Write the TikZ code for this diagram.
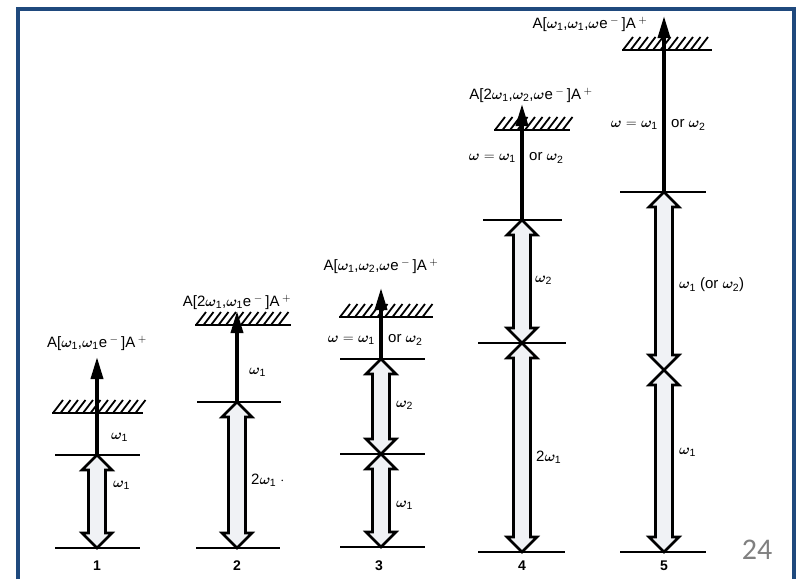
\documentclass[tikz,border=0pt]{standalone}
\usepackage{amsmath,amssymb,bm}
\usepackage{xcolor}
\usepackage{fontspec}
\setmainfont{Liberation Sans}
\newfontfamily\slidefont{Carlito}
\usepackage{tikz}
\usetikzlibrary{positioning,arrows.meta,calc}
\definecolor{frameblue}{RGB}{31,73,125}
\definecolor{pagegray}{RGB}{128,128,128}
\definecolor{photonfill}{RGB}{240,242,245}
\tikzset{
  level/.style={line width=1.3pt},
  hatch/.style={line width=1.8pt},
  ionarr/.style={-{Triangle[length=22pt,width=12pt]}, line width=3.6pt},
  photon/.style={draw, line width=2.6pt, fill=photonfill, line join=miter},
  lbl/.style={font=\fontsize{15}{17}\selectfont, inner sep=1pt},
  num/.style={font=\fontsize{14}{16}\selectfont\bfseries, inner sep=1pt},
}
\newcommand{\om}[1]{$\bm{\omega}_{\text{#1}}$}
\newcommand{\omw}{$\bm{\omega}$}
\newcommand{\ion}[1]{A[#1e\,$^-$\,]A\,$^+$}
% two-headed photon arrow, #1 lower end, #2 upper end
\newcommand{\photonarrow}[2]{%
  \path[photon] let \p1=(#1), \p2=(#2) in
    (\x1,\y1) -- (\x1+15pt,\y1+15pt) -- (\x1+8.5pt,\y1+15pt) -- (\x1+8.5pt,\y2-15pt)
    -- (\x1+15pt,\y2-15pt) -- (\x2,\y2) -- (\x1-15pt,\y2-15pt) -- (\x1-8.5pt,\y2-15pt)
    -- (\x1-8.5pt,\y1+15pt) -- (\x1-15pt,\y1+15pt) -- cycle;}
% ionisation limit with hatching, #1 axis point, #2/#3 left/right reach
\newcommand{\ionlimit}[3]{%
  \draw[level] ([xshift=#2pt]#1) -- ([xshift=#3pt]#1);
  \pgfmathtruncatemacro{\nh}{(#3-(#2)-8)/7.5}
  \foreach \k in {0,...,\nh}
    \draw[hatch] ([xshift={(#2+\k*7.5+1)*1pt}]#1) -- ++(10,-13);}

\begin{document}
\begin{tikzpicture}[x=1pt,y=-1pt]
  \useasboundingbox (0,0) rectangle (798,579);
  \draw[frameblue, line width=4pt] (18,579) -- (18,9) -- (794,9) -- (794,579);

  % 1
  \coordinate (b1) at (97,548);
  \coordinate (e1) at (97,455);
  \coordinate (i1) at (97,413);
  \coordinate (t1) at (97,357);
  \draw[level] ([xshift=-42pt]b1) -- ([xshift=43pt]b1);
  \draw[level] ([xshift=-42pt]e1) -- ([xshift=43pt]e1);
  \ionlimit{i1}{-45}{46}
  \photonarrow{b1}{e1}
  \draw[ionarr] (e1) -- (t1);
  \node[lbl] (ion1) at (97,343) {\ion{\om{1},\om{1}}};
  \node[lbl, anchor=west] (w1a) at (110,437) {\om{1}};
  \node[lbl, anchor=west] (w1b) at (112,485) {\om{1}};
  \node[num] (n1) at (97,566) {1};

  % 2
  \coordinate (b2) at (237,548);
  \coordinate (e2) at (237,402);
  \coordinate (i2) at (237,325);
  \coordinate (t2) at (237,311);
  \draw[level] ([xshift=-41pt]b2) -- ([xshift=43pt]b2);
  \draw[level] ([xshift=-40pt]e2) -- ([xshift=44pt]e2);
  \ionlimit{i2}{-42}{54}
  \photonarrow{b2}{e2}
  \draw[ionarr] (e2) -- (t2);
  \node[lbl] (ion2) at (237,302) {\ion{2\om{1},\om{1}}};
  \node[lbl, anchor=west] (w2a) at (248,372) {\om{1}};
  \node[lbl, anchor=west] (w2b) at (250,480) {2\om{1} $\cdot$};
  \node[num] (n2) at (237,566) {2};

  % 3
  \coordinate (b3) at (381,547);
  \coordinate (c3) at (381,454);
  \coordinate (e3) at (381,359);
  \coordinate (i3) at (381,317);
  \coordinate (t3) at (381,288);
  \draw[level] ([xshift=-41pt]b3) -- ([xshift=44pt]b3);
  \draw[level] ([xshift=-41pt]c3) -- ([xshift=44pt]c3);
  \draw[level] ([xshift=-41pt]e3) -- ([xshift=44pt]e3);
  \ionlimit{i3}{-42}{52}
  \photonarrow{b3}{c3}
  \photonarrow{c3}{e3}
  \draw[ionarr] (e3) -- (t3);
  \node[lbl] (ion3) at (381,266) {\ion{\om{1},\om{2},\omw}};
  \node[lbl, anchor=east] (eq3) at (376,340) {\omw\ $=$ \om{1}};
  \node[lbl, anchor=west] (or3) at (387,340) {or \om{2}};
  \node[lbl, anchor=west] (w3a) at (395,405) {\om{2}};
  \node[lbl, anchor=west] (w3b) at (395,505) {\om{1}};
  \node[num] (n3) at (379,566) {3};

  % 4
  \coordinate (b4) at (522,552);
  \coordinate (c4) at (522,343);
  \coordinate (e4) at (522,220);
  \coordinate (i4) at (522,130);
  \coordinate (t4) at (522,104);
  \draw[level] ([xshift=-44pt]b4) -- ([xshift=43pt]b4);
  \draw[level] ([xshift=-44pt]c4) -- ([xshift=44pt]c4);
  \draw[level] ([xshift=-39pt]e4) -- ([xshift=40pt]e4);
  \ionlimit{i4}{-28}{48}
  \photonarrow{b4}{c4}
  \photonarrow{c4}{e4}
  \draw[ionarr] (e4) -- (t4);
  \node[lbl] (ion4) at (531,95) {\ion{2\om{1},\om{2},\omw}};
  \node[lbl, anchor=east] (eq4) at (517,158) {\omw\ $=$ \om{1}};
  \node[lbl, anchor=west] (or4) at (528,158) {or \om{2}};
  \node[lbl, anchor=west] (w4a) at (534,280) {\om{2}};
  \node[lbl, anchor=west] (w4b) at (535,457) {2\om{1}};
  \node[num] (n4) at (522,566) {4};

  % 5
  \coordinate (b5) at (664,552);
  \coordinate (c5) at (664,370);
  \coordinate (e5) at (664,192);
  \coordinate (i5) at (664,50);
  \coordinate (t5) at (664,16);
  \draw[level] ([xshift=-44pt]b5) -- ([xshift=42pt]b5);
  \draw[level] ([xshift=-44pt]e5) -- ([xshift=42pt]e5);
  \ionlimit{i5}{-42}{48}
  \photonarrow{b5}{c5}
  \photonarrow{c5}{e5}
  \draw[ionarr] (e5) -- (t5);
  \node[lbl] (ion5) at (590,24) {\ion{\om{1},\om{1},\omw}};
  \node[lbl, anchor=east] (eq5) at (659,125) {\omw\ $=$ \om{1}};
  \node[lbl, anchor=west] (or5) at (670,125) {or \om{2}};
  \node[lbl, anchor=west] (w5a) at (678,285) {\om{1} (or \om{2})};
  \node[lbl, anchor=west] (w5b) at (678,452) {\om{1}};
  \node[num] (n5) at (664,566) {5};

  \node[font=\slidefont\fontsize{30}{32}\selectfont, text=pagegray] (page) at (757,550) {24};
\end{tikzpicture}
\end{document}
